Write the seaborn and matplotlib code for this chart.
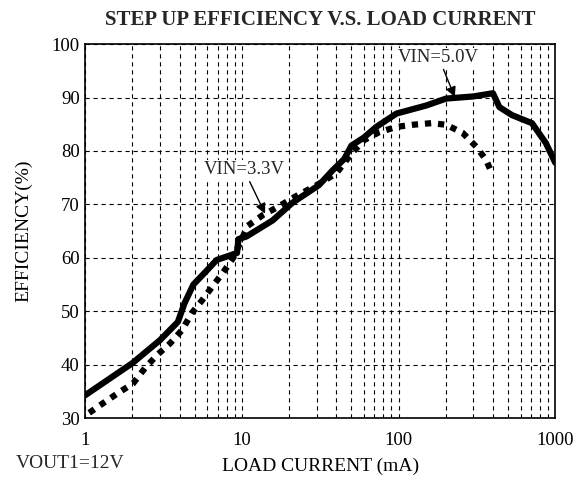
import numpy as np
import pandas as pd
import matplotlib
matplotlib.use("Agg")
import matplotlib.pyplot as plt
import seaborn as sns

# load current (mA) and efficiency (%)
cur_5v = [1, 2, 3, 3.9, 4.3, 4.9, 6.0, 6.9, 9.3, 9.5, 10.7, 15.7, 21, 31, 38, 45,
          50, 60, 72, 97, 150, 201, 300, 400, 440, 530, 710, 870, 1000]
eff_5v = [34.3, 40.3, 44.6, 48, 51.5, 55, 57.7, 59.6, 60.9, 63.5, 64, 67, 70.3, 73.6,
          76.4, 78.5, 81, 82.5, 84.5, 87, 88.5, 89.8, 90.2, 90.8, 88.2, 86.7, 85.2, 81.5, 77.8]

cur_33v = [1.06, 1.3, 1.62, 2.02, 2.41, 2.87, 3.48, 4.15, 4.8, 5.55, 6.5, 7.6, 8.8,
           10.9, 13.6, 16.9, 21.7, 30, 40, 50, 60, 75, 97, 123, 162, 201, 256, 313, 362, 392]
eff_33v = [31, 32.8, 34.7, 36.5, 39.4, 41.8, 44, 46.5, 49.7, 52, 54.7, 57.3, 60,
           66, 68, 69.5, 71.4, 73.6, 75.8, 79.5, 82, 83.5, 84.5, 84.9, 85.2, 84.9, 83.4,
           80.8, 78.3, 76]

x_ticks = [1, 10, 100, 1000]
x_tick_labels = ["1", "10", "100", "1000"]
y_ticks = [30, 40, 50, 60, 70, 80, 90, 100]

df_5v = pd.DataFrame({"current": cur_5v, "eff": eff_5v})
df_33v = pd.DataFrame({"current": cur_33v, "eff": eff_33v})

sns.set_theme(style="white")
plt.rcParams['font.family'] = ['Liberation Serif', 'DejaVu Serif']

fig = plt.figure(figsize=(5.76, 4.79), dpi=100)
ax = fig.add_axes([0.148, 0.127, 0.816, 0.781])

sns.lineplot(data=df_33v, x="current", y="eff", ax=ax, color="black",
             linewidth=4.5, linestyle=(0, (1, 1.1)), sort=False, estimator=None)
sns.lineplot(data=df_5v, x="current", y="eff", ax=ax, color="black",
             linewidth=4.5, sort=False, estimator=None)

ax.set_xscale("log")
ax.set_xlim(1, 1000)
ax.set_ylim(30, 100)
ax.set_xticks(x_ticks)
ax.set_xticklabels(x_tick_labels)
ax.set_yticks(y_ticks)
ax.xaxis.set_minor_locator(matplotlib.ticker.LogLocator(base=10, subs=np.arange(2, 10)))
ax.xaxis.set_minor_formatter(matplotlib.ticker.NullFormatter())

grid_ls = (0, (3.8, 3.4))
ax.grid(True, which="major", axis="both", color="black", linestyle=grid_ls, linewidth=0.8)
ax.grid(True, which="minor", axis="x", color="black", linestyle=grid_ls, linewidth=0.8)
ax.tick_params(which="both", length=0, labelsize=13.5, colors="black")
ax.tick_params(axis="x", pad=10)
ax.tick_params(axis="y", pad=4)
for s in ax.spines.values():
    s.set_color("black")
    s.set_linewidth(1.2)

ax.set_xlabel("LOAD CURRENT (mA)", fontsize=14, color="black", labelpad=6)
ax.set_ylabel("EFFICIENCY(%)", fontsize=14, color="black", labelpad=14)
ax.set_title("STEP UP EFFICIENCY V.S. LOAD CURRENT", fontsize=15, fontweight="bold",
             pad=14)
fig.text(0.027, 0.022, "VOUT1=12V", fontsize=14)

ax.annotate("VIN=5.0V", xy=(232, 89.6), xytext=(180, 97.5), fontsize=13.5,
            ha="center", va="center",
            bbox=dict(boxstyle="square,pad=0.05", fc="white", ec="none"),
            arrowprops=dict(arrowstyle="-|>", color="black", lw=1, mutation_scale=15))
ax.annotate("VIN=3.3V", xy=(14.3, 67.8), xytext=(10.3, 76.5), fontsize=13.5,
            ha="center", va="center",
            bbox=dict(boxstyle="square,pad=0.05", fc="white", ec="none"),
            arrowprops=dict(arrowstyle="-|>", color="black", lw=1, mutation_scale=15))

fig.savefig("out.png", dpi=100)
